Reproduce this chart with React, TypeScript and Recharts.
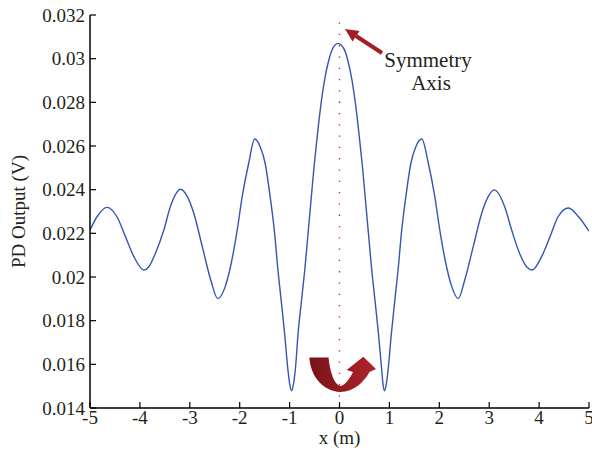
import { Label, Line, LineChart, ReferenceLine, XAxis, YAxis } from "recharts";

// sample positions along the scan (m)
const X_POS = [
  -5.0, -4.86, -4.66, -4.46, -4.29, -4.12, -3.92, -3.82, -3.69, -3.52, -3.39,
  -3.18, -3.05, -2.92, -2.75, -2.58, -2.44, -2.29, -2.17, -2.05, -1.95, -1.82,
  -1.7, -1.59, -1.49, -1.39, -1.3, -1.24, -1.17, -1.1, -1.04, -1.0, -0.96,
  -0.92, -0.88, -0.83, -0.76, -0.69, -0.63, -0.57, -0.51, -0.44, -0.36, -0.3,
  -0.23, -0.15, -0.03, 0.1, 0.18, 0.25, 0.31, 0.39, 0.46, 0.52, 0.58, 0.64,
  0.71, 0.78, 0.84, 0.87, 0.9, 0.94, 0.98, 1.04, 1.11, 1.18, 1.24, 1.33, 1.43,
  1.53, 1.65, 1.78, 1.91, 2.01, 2.13, 2.25, 2.38, 2.51, 2.68, 2.85, 2.98, 3.1,
  3.31, 3.45, 3.61, 3.75, 3.86, 4.05, 4.22, 4.38, 4.59, 4.79, 5.0,
];

// photodiode output (V)
const PD_OUTPUT = [
  0.02215, 0.02276, 0.02319, 0.02276, 0.02185, 0.02093, 0.02032, 0.02047,
  0.02108, 0.02215, 0.02322, 0.02402, 0.02368, 0.02292, 0.02139, 0.01986,
  0.01901, 0.01956, 0.02063, 0.02215, 0.02368, 0.02521, 0.02632, 0.02597,
  0.02521, 0.02368, 0.022, 0.02047, 0.01895, 0.01742, 0.01589, 0.01513,
  0.01479, 0.01513, 0.01589, 0.01742, 0.01895, 0.02047, 0.022, 0.02353,
  0.02505, 0.02658, 0.02811, 0.02902, 0.02979, 0.0304, 0.0307, 0.0304,
  0.02979, 0.02902, 0.02811, 0.02658, 0.02505, 0.02353, 0.022, 0.02047,
  0.01895, 0.01742, 0.01589, 0.01513, 0.01479, 0.01513, 0.01589, 0.01742,
  0.01895, 0.02047, 0.022, 0.02368, 0.02521, 0.02597, 0.02632, 0.02521,
  0.02368, 0.02215, 0.02063, 0.01956, 0.01901, 0.01986, 0.02139, 0.02292,
  0.02368, 0.02399, 0.02322, 0.02215, 0.02108, 0.02047, 0.02032, 0.02093,
  0.02185, 0.02276, 0.02316, 0.02276, 0.0221,
];

const X_TICKS = [-5, -4, -3, -2, -1, 0, 1, 2, 3, 4, 5];
const Y_TICKS = [0.014, 0.016, 0.018, 0.02, 0.022, 0.024, 0.026, 0.028, 0.03, 0.032];

const data = X_POS.map((x, i) => ({ x, v: PD_OUTPUT[i] }));

const FONT = '"Liberation Serif", "Times New Roman", serif';
const INK = "#231f20";
const RED = "#a31d24";

const axisLine = { stroke: "#000", strokeWidth: 1.5 };
const tickLine = { stroke: "#000", strokeWidth: 1.2 };
const tickStyle = { fill: INK, fontSize: 19, fontFamily: FONT };

const YTitle = (props: any) => {
  const vb = props.viewBox;
  const cy = vb.y + vb.height / 2;
  return (
    <text
      x={25}
      y={cy}
      transform={`rotate(-90 25 ${cy})`}
      textAnchor="middle"
      fill={INK}
      fontSize={19}
      fontFamily={FONT}
    >
      PD Output (V)
    </text>
  );
};

const App = () => {
  return (
    <div style={{ position: "absolute", left: 0, top: 0, width: 592, height: 452, background: "#fff" }}>
      <LineChart width={592} height={452} data={data} margin={{ top: 15, right: 3, bottom: 0, left: 0 }}>
        <XAxis
          xAxisId="b"
          dataKey="x"
          type="number"
          domain={[-5, 5]}
          ticks={X_TICKS}
          interval={0}
          allowDataOverflow
          height={44}
          tickSize={-6}
          tickMargin={9}
          axisLine={axisLine}
          tickLine={tickLine}
          tick={tickStyle}
        >
          <Label value="x (m)" position="insideBottom" offset={8} fill={INK} fontSize={19} fontFamily={FONT} />
        </XAxis>
        <XAxis
          xAxisId="t"
          orientation="top"
          dataKey="x"
          type="number"
          domain={[-5, 5]}
          ticks={X_TICKS}
          interval={0}
          allowDataOverflow
          height={0}
          tickSize={-6}
          tickFormatter={() => ""}
          axisLine={axisLine}
          tickLine={tickLine}
        />
        <YAxis
          yAxisId="l"
          type="number"
          domain={[0.014, 0.032]}
          ticks={Y_TICKS}
          interval={0}
          allowDataOverflow
          width={90}
          tickSize={-6}
          tickMargin={11}
          tickFormatter={(v: number) => String(parseFloat(v.toFixed(3)))}
          axisLine={axisLine}
          tickLine={tickLine}
          tick={tickStyle}
        >
          <Label content={YTitle} />
        </YAxis>
        <YAxis
          yAxisId="r"
          orientation="right"
          type="number"
          domain={[0.014, 0.032]}
          ticks={Y_TICKS}
          interval={0}
          allowDataOverflow
          width={0}
          tickSize={-6}
          tickFormatter={() => ""}
          axisLine={axisLine}
          tickLine={tickLine}
        />
        <ReferenceLine xAxisId="b" yAxisId="l" x={0} stroke="#b2323a" strokeWidth={1.4} strokeDasharray="1.3 10" />
        <Line
          xAxisId="b"
          yAxisId="l"
          type="monotone"
          dataKey="v"
          stroke="#3355b5"
          strokeWidth={1.4}
          dot={false}
          isAnimationActive={false}
        />
      </LineChart>

      {/* annotations: pointer to the symmetry axis and the flip arrow at the bottom */}
      <svg width={592} height={452} style={{ position: "absolute", left: 0, top: 0, pointerEvents: "none" }}>
        <defs>
          <linearGradient id="flip" x1="0" y1="0" x2="1" y2="0">
            <stop offset="0" stopColor="#761418" />
            <stop offset="1" stopColor="#b3232a" />
          </linearGradient>
        </defs>
        <line x1={382} y1={53} x2={356} y2={36} stroke={RED} strokeWidth={4} />
        <polygon points="345,29 359.5,31 352.5,41.5" fill={RED} />
        <text x={428} y={67} textAnchor="middle" fill={INK} fontSize={21} fontFamily={FONT}>
          Symmetry
        </text>
        <text x={431} y={90} textAnchor="middle" fill={INK} fontSize={21} fontFamily={FONT}>
          Axis
        </text>
        <path
          d="M 309.3 357.5 L 328.5 357.5 C 330 372 334 384 340 386 C 344 386 349 380 353 372 L 346.7 370 L 363.3 356.7 L 376 369 L 369.5 372 C 364 382 354 392 340 392 C 324 391 311 378 309.3 357.5 Z"
          fill="url(#flip)"
        />
      </svg>
    </div>
  );
};

export default App;
